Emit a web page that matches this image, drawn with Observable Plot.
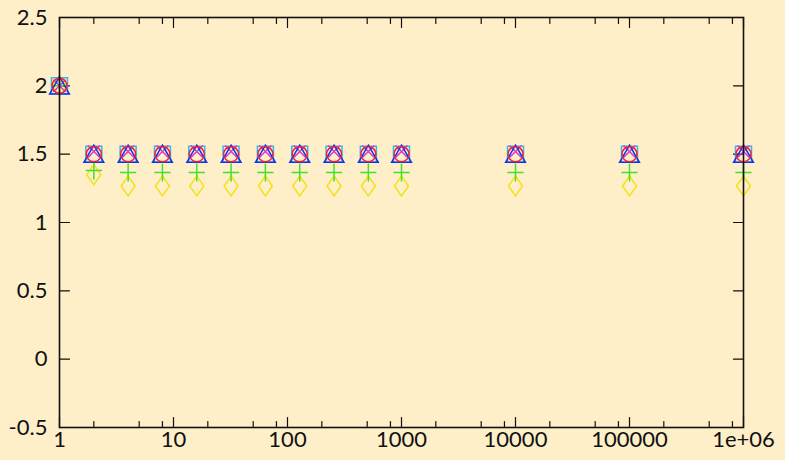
<!DOCTYPE html>
<html>
<head>
<meta charset="utf-8">
<script src="https://cdn.jsdelivr.net/npm/d3@7"></script>
<script src="https://cdn.jsdelivr.net/npm/@observablehq/plot@0.6"></script>
<style>
  html, body { margin: 0; padding: 0; background: #feefc9; }
</style>
</head>
<body>
<div id="chart"></div>
<script>
// Sample sizes along the log x axis
const xs = [1, 2, 4, 8, 16, 32, 64, 128, 256, 512, 1000, 10000, 100000, 1000000];

// Series values (one per sample size)
const squareVals   = [2, 1.5, 1.5, 1.5, 1.5, 1.5, 1.5, 1.5, 1.5, 1.5, 1.5, 1.5, 1.5, 1.5];
const triangleVals = [2, 1.5, 1.5, 1.5, 1.5, 1.5, 1.5, 1.5, 1.5, 1.5, 1.5, 1.5, 1.5, 1.5];
const circleVals   = [2, 1.5, 1.5, 1.5, 1.5, 1.5, 1.5, 1.5, 1.5, 1.5, 1.5, 1.5, 1.5, 1.5];
const timesVals    = [2, 1.52, 1.52, 1.52, 1.52, 1.52, 1.52, 1.52, 1.52, 1.52, 1.52, 1.52, 1.52, 1.52];
const plusVals     = [2, 1.38, 1.365, 1.365, 1.365, 1.365, 1.365, 1.365, 1.365, 1.365, 1.365, 1.365, 1.365, 1.365];
const diamondVals  = [2, 1.35, 1.267, 1.267, 1.267, 1.267, 1.267, 1.267, 1.267, 1.267, 1.267, 1.267, 1.267, 1.267];

// Axis ticks and labels
const xMajor = [1, 10, 100, 1000, 10000, 100000, 1000000];
const xLabels = ["1", "10", "100", "1000", "10000", "100000", "1e+06"];
const minorSteps = [2, 5, 8];
const yMajor = [-0.5, 0, 0.5, 1, 1.5, 2, 2.5];
const yLabels = ["-0.5", "0", "0.5", "1", "1.5", "2", "2.5"];

const xMinor = xMajor.slice(0, -1).flatMap(d => minorSteps.map(m => d * m));
const xLabelOf = new Map(xMajor.map((d, i) => [d, xLabels[i]]));
const yLabelOf = new Map(yMajor.map((d, i) => [d, yLabels[i]]));

const rows = vals => xs.map((x, i) => ({x, y: vals[i]}));

// Outline point shapes
const rad = size => Math.sqrt(size / Math.PI);
const symSquare = {draw(c, s) { const r = rad(s); c.rect(-r, -r, 2 * r, 2 * r); }};
const symTriangle = {draw(c, s) { const r = rad(s);
  c.moveTo(0, -r); c.lineTo(r * 1.1, r * 0.9); c.lineTo(-r * 1.1, r * 0.9); c.closePath(); }};
const symTimes = {draw(c, s) { const r = rad(s);
  c.moveTo(-r, -r); c.lineTo(r, r); c.moveTo(r, -r); c.lineTo(-r, r); }};
const symPlus = {draw(c, s) { const r = rad(s);
  c.moveTo(-r * 0.9, 0); c.lineTo(r * 0.9, 0); c.moveTo(0, -r); c.lineTo(0, r); }};
const symDiamond = {draw(c, s) { const r = rad(s);
  c.moveTo(0, -r); c.lineTo(r * 0.7, 0); c.lineTo(0, r); c.lineTo(-r * 0.7, 0); c.closePath(); }};

// Plain straight tick stroke for the inward axis ticks
const tickLine = {draw(c, l) { c.moveTo(0, 0); c.lineTo(0, -l); }};
const tick = (data, anchor, length, rotate, vertical) =>
  (vertical ? Plot.vectorY : Plot.vectorX)(data, {
    frameAnchor: anchor, length, rotate, anchor: "start", shape: tickLine,
    stroke: "#111", strokeWidth: 1.2
  });

const pts = (vals, symbol, r, stroke) =>
  Plot.dot(rows(vals), {x: "x", y: "y", symbol, r, stroke, fill: "none", strokeWidth: 1.5});

const chart = Plot.plot({
  width: 785,
  height: 460,
  marginLeft: 59,
  marginRight: 42,
  marginTop: 17,
  marginBottom: 33,
  style: {background: "#feefc9", fontFamily: "Lato, 'Open Sans', sans-serif", fontSize: "22px", color: "#111"},
  x: {type: "log", domain: [1, 1000000]},
  y: {domain: [-0.5, 2.5]},
  marks: [
    // inward ticks on all four sides
    tick(xMajor, "bottom", 10, 0, false),
    tick(xMinor, "bottom", 6, 0, false),
    tick(xMajor, "top", 10, 180, false),
    tick(xMinor, "top", 6, 180, false),
    tick(yMajor, "left", 10, 90, true),
    tick(yMajor, "right", 10, -90, true),
    Plot.axisX(xMajor, {tickSize: 0, tickPadding: 4, tickFormat: d => xLabelOf.get(d), label: null, fill: "#111"}),
    Plot.axisY(yMajor, {tickSize: 0, tickPadding: 12, tickFormat: d => yLabelOf.get(d), label: null, fill: "#111"}),
    // point series
    pts(diamondVals, symDiamond, 10, "#f2e21c"),
    pts(plusVals, symPlus, 9, "#44e02a"),
    pts(squareVals, symSquare, 8, "#3bb6e6"),
    pts(timesVals, symTimes, 6, "#d43cc8"),
    pts(triangleVals, symTriangle, 9, "#1133e8"),
    pts(circleVals, "circle", 7.5, "#f0203c"),
    Plot.frame({stroke: "#111", strokeWidth: 1.6})
  ]
});

document.getElementById("chart").append(chart);
</script>
</body>
</html>
